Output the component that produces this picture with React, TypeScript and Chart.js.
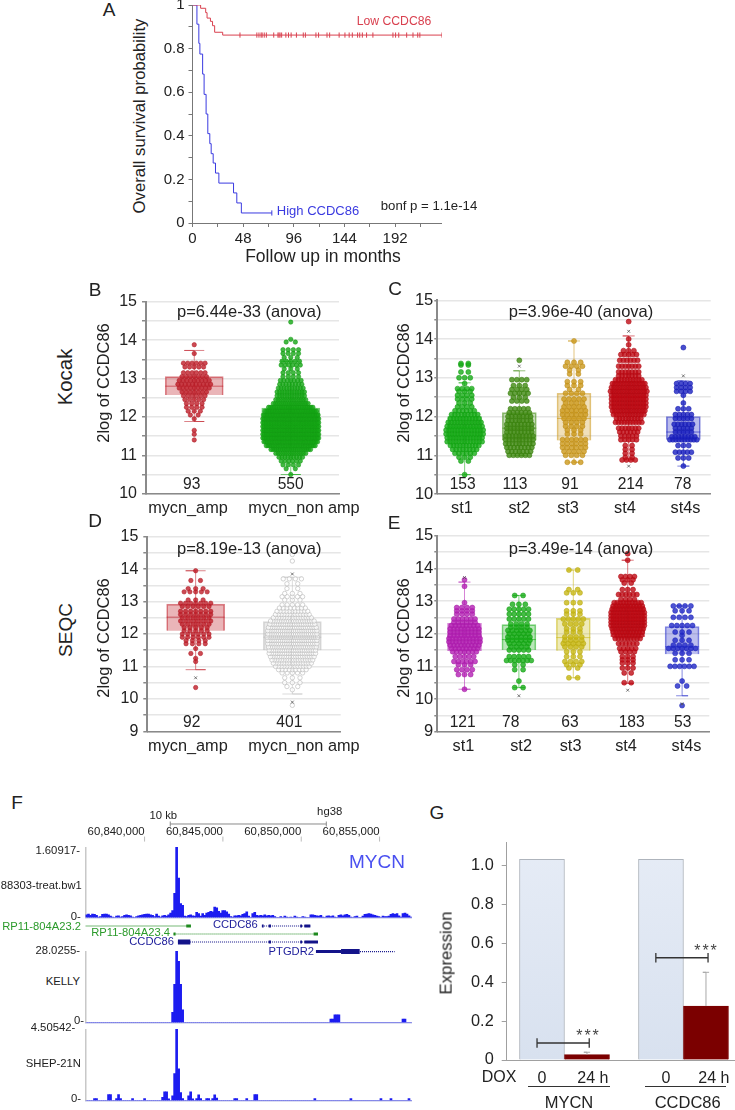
import React, { useEffect, useRef } from "react";
import { Chart, registerables } from "chart.js";
Chart.register(...registerables);

const FONT = "'Liberation Sans', Arial, sans-serif";
Chart.defaults.font.family = FONT;
Chart.defaults.color = "#222";

// ---------- Panel A ----------
const lowMonths = [0, 7.7, 12.5, 13.8, 17, 19, 21, 28.6, 236.5];
const lowSurvival = [1, 0.985, 0.965, 0.94, 0.925, 0.905, 0.875, 0.862, 0.862];
const lowCensored = [45, 61, 63, 65, 66, 68, 70, 77, 81, 82, 83, 84.5, 88.5, 91, 93.5, 98.5, 105, 107, 117, 119.5, 127.5, 130, 139, 144.5, 148.5, 151.5, 156.5, 158.5, 161, 165, 171, 190, 192.5, 195.5, 203, 209, 213.5, 215.5, 236.5];
const highMonths = [0, 4.2, 6, 7, 9.6, 11, 12.9, 14.5, 16.4, 17.7, 19.6, 21.8, 25, 38.9, 42, 46.3, 75.2];
const highSurvival = [1, 0.912, 0.824, 0.775, 0.683, 0.59, 0.5, 0.41, 0.364, 0.318, 0.275, 0.229, 0.183, 0.138, 0.092, 0.046, 0.046];

// ---------- Swarm rows: [log2 value, number of samples in that row] ----------
const kocakAmpRows = [[11.4,1],[11.55,1],[11.65,1],[11.95,1],[12.05,2],[12.15,3],[12.25,4],[12.35,4],[12.45,5],[12.55,6],[12.65,7],[12.75,9],[12.85,10],[12.95,9],[13.05,7],[13.15,6],[13.3,5],[13.4,6],[13.65,1],[13.88,1]];
const kocakNonRows = [[10.5,1],[10.65,2],[10.75,4],[10.85,6],[10.95,9],[11.05,14],[11.15,22],[11.25,30],[11.35,34],[11.45,36],[11.55,36],[11.65,36],[11.75,36],[11.85,36],[11.95,36],[12.05,35],[12.15,32],[12.25,26],[12.35,18],[12.45,14],[12.55,12],[12.65,12],[12.75,10],[12.85,8],[12.95,7],[13.05,4],[13.15,4],[13.25,3],[13.35,6],[13.45,5],[13.55,3],[13.65,4],[13.75,4],[13.95,2],[14.02,1],[14.47,1]];
const kocakSt1Rows = [[10.5,1],[10.85,2],[10.95,3],[11.05,6],[11.15,8],[11.25,10],[11.35,13],[11.45,13],[11.55,14],[11.65,14],[11.75,13],[11.85,12],[11.95,10],[12.05,9],[12.15,6],[12.25,4],[12.35,3],[12.45,4],[12.55,4],[12.65,3],[12.72,4],[12.85,1],[13.0,3],[13.15,2],[13.33,2],[13.37,2]];
const kocakSt2Rows = [[11.0,6],[11.1,7],[11.2,8],[11.3,9],[11.4,9],[11.5,9],[11.6,8],[11.7,8],[11.8,8],[11.9,7],[12.0,7],[12.1,6],[12.2,5],[12.4,4],[12.5,3],[12.6,5],[12.7,4],[12.8,3],[12.95,4],[13.45,1]];
const kocakSt3Rows = [[10.82,3],[11.0,4],[11.1,5],[11.2,6],[11.3,6],[11.4,6],[11.55,3],[11.65,3],[11.75,4],[11.85,4],[11.95,5],[12.05,6],[12.15,6],[12.25,5],[12.35,4],[12.45,5],[12.6,4],[12.7,2],[12.8,3],[12.9,3],[13.1,2],[13.2,2],[13.3,4],[13.4,3],[13.95,1]];
const kocakSt4Rows = [[10.88,4],[10.95,2],[11.05,2],[11.15,2],[11.25,2],[11.4,5],[11.5,5],[11.6,6],[11.7,7],[11.85,10],[11.95,9],[12.05,12],[12.15,13],[12.25,14],[12.35,14],[12.45,14],[12.55,14],[12.65,15],[12.75,14],[12.85,13],[12.95,10],[13.05,7],[13.15,7],[13.3,7],[13.45,6],[13.6,5],[13.7,3],[13.85,1],[14.0,1],[14.45,1]];
const kocakSt4sRows = [[10.72,1],[10.93,3],[11.08,5],[11.25,3],[11.4,10],[11.48,8],[11.6,5],[11.7,5],[11.8,6],[11.95,5],[12.05,5],[12.2,3],[12.35,1],[12.55,1],[12.65,4],[12.75,4],[12.85,4],[13.78,1]];
const seqcAmpRows = [[10.35,1],[11.15,1],[11.25,1],[11.4,2],[11.55,1],[11.7,4],[11.8,4],[11.9,6],[12.0,6],[12.1,5],[12.2,5],[12.3,6],[12.4,7],[12.5,6],[12.6,7],[12.7,7],[12.85,6],[12.95,7],[13.05,3],[13.3,5],[13.4,3],[13.65,2],[13.95,1]];
const seqcNonRows = [[9.8,1],[10.28,1],[10.38,2],[10.5,3],[10.65,3],[10.8,5],[10.9,9],[11.0,13],[11.1,16],[11.2,18],[11.3,20],[11.4,22],[11.5,22],[11.6,23],[11.7,24],[11.8,24],[11.9,25],[12.0,24],[12.1,24],[12.2,23],[12.3,21],[12.4,20],[12.5,16],[12.6,13],[12.7,11],[12.8,8],[12.9,5],[13.05,3],[13.15,5],[13.25,3],[13.4,2],[13.55,2],[13.7,4],[14.25,1],[14.45,1]];
const seqcSt1Rows = [[10.3,1],[10.75,3],[10.9,4],[11.05,3],[11.15,6],[11.3,5],[11.45,7],[11.55,8],[11.65,9],[11.75,10],[11.85,10],[11.95,9],[12.05,9],[12.15,9],[12.25,8],[12.35,6],[12.45,6],[12.6,4],[12.7,4],[12.8,4],[12.95,1],[13.45,1],[13.65,1]];
const seqcSt2Rows = [[10.35,2],[10.55,1],[10.9,2],[11.05,2],[11.18,7],[11.3,5],[11.5,5],[11.6,4],[11.7,5],[11.8,6],[11.9,6],[12.0,5],[12.1,6],[12.2,4],[12.3,4],[12.45,5],[12.6,5],[12.75,5],[12.9,3],[13.17,2]];
const seqcSt3Rows = [[10.65,2],[10.95,2],[11.05,3],[11.15,4],[11.3,3],[11.45,3],[11.6,4],[11.7,5],[11.8,4],[11.9,4],[12.05,3],[12.15,3],[12.3,4],[12.45,5],[12.6,3],[12.7,3],[12.95,3],[13.25,3],[13.35,2],[13.95,2]];
const seqcSt4Rows = [[10.5,2],[10.8,2],[10.95,3],[11.1,3],[11.2,3],[11.3,3],[11.45,4],[11.55,5],[11.7,6],[11.85,9],[11.95,10],[12.05,11],[12.15,12],[12.25,13],[12.35,13],[12.45,13],[12.55,13],[12.65,13],[12.75,12],[12.85,11],[12.95,10],[13.05,4],[13.2,6],[13.35,3],[13.55,2],[13.65,3],[13.75,4],[14.25,1],[14.45,1]];
const seqcSt4sRows = [[9.8,1],[10.4,2],[10.55,1],[11.0,6],[11.2,3],[11.4,3],[11.55,7],[11.65,4],[11.8,3],[11.95,1],[12.05,3],[12.25,5],[12.5,4],[12.7,3],[12.85,4]];

// ---------- Box statistics: [low whisker, q1, median, q3, high whisker] ----------
const kocakMycnBoxes = [[11.88,12.57,12.8,13.05,13.73],[10.5,11.4,11.8,12.23,13.45]];
const kocakStageBoxes = [[10.5,11.4,11.7,12.0,12.87],[11.0,11.38,11.7,12.1,13.18],[10.82,11.38,11.95,12.6,13.95],[10.88,12.07,12.5,12.9,14.08],[10.72,11.4,11.6,12.0,12.92]];
const seqcMycnBoxes = [[10.9,12.1,12.52,12.92,13.95],[10.15,11.5,11.9,12.38,13.75]];
const seqcStageBoxes = [[10.3,11.47,11.9,12.32,13.58],[10.35,11.5,11.82,12.28,13.17],[10.65,11.48,11.88,12.47,13.95],[10.48,11.9,12.4,12.85,14.25],[10.1,11.37,11.6,12.22,12.85]];

// ---------- Outliers: [category index, value] ----------
const kocakStageOutliers = [[1,13.3],[3,14.2],[3,10.72],[4,13.05]];
const seqcMycnOutliers = [[0,10.65],[1,13.85],[1,9.9]];
const seqcStageOutliers = [[0,13.72],[1,10.1],[3,10.27],[4,9.85]];

const mycnLabels = ["mycn_amp", "mycn_non amp"];
const stageLabels = ["st1", "st2", "st3", "st4", "st4s"];
const kocakMycnLabelAt = [-0.065, 1.137];
const seqcMycnLabelAt = [-0.08, 1.12];
const kocakStageLabelAt = [-0.05, 1.0, 1.89, 2.93, 4.04];
const seqcStageLabelAt = [-0.02, 1.04, 1.95, 2.97, 4.08];

// ---------- Panel F ----------
const chip88303 = [.06,.08,.05,.08,.07,.05,.01,.02,.07,.08,.08,.06,.03,.01,0,.03,.04,.01,.02,.05,.06,.05,.04,.01,0,.02,.04,.05,.06,.07,.08,.08,.06,.05,.02,.08,.03,.01,.04,.05,.03,.06,.1,.16,.55,1.6,.9,.32,.28,.03,.02,.05,.06,.04,.03,.12,.09,.03,.09,.05,.1,.12,.14,.13,.24,.22,.14,.1,.16,.16,.13,.08,.02,.01,.04,.04,.05,.04,.07,.09,.13,.03,0,.09,.12,.05,.04,.05,.04,.06,.04,.05,.04,.05,.02,0,0,.02,0,.03,.01,0,.01,0,.03,.01,0,0,.02,.01,0,0,.06,.06,.05,.04,.03,.05,.01,0,.03,.04,.02,.04,.01,0,.05,.06,.04,.06,.07,.05,.01,0,.02,.03,0,0,.03,.07,.08,.09,.08,.06,.05,.03,.02,0,.03,.02,.02,.03,.07,.09,.07,.09,.04,.01,.09,.1,.08,.04,.01];
const kellyBins = [43,44,45,46,47,48,122,123,124,125,126,158,159];
const kellyValues = [4,15,28,24,15,5,1.3,1.3,3,3,3,1.3,1.3];
const shepBins = [4,5,11,12,15,16,17,23,29,38,39,40,41,43,44,45,46,47,48,51,52,53,55,56,57,60,61,63,64,65,74,75,80,84,85,114,132,147,152,161];
const shepValues = [.12,.12,.38,.38,.12,.38,.12,.12,.12,.2,.55,.55,.1,.3,1.7,4.5,2,.5,.12,.3,.55,.1,.12,.35,.12,.12,.12,.12,.35,.15,.12,.12,.12,.38,.38,.12,.12,.12,.12,.12];
const genomeTicksKb = [60840, 60845, 60850, 60855];
const scaleBarKb = [60841.64, 60851.6];
const GENOME_MIN = 60836.23, GENOME_MAX = 60857.07;
const geneTranscripts = [
  { row: 1, span: [60836.23, 60842.92], green: true },
  { row: 1, span: [60847.49, 60850.58], green: false },
  { row: 2, span: [60841.85, 60851.07], green: true },
  { row: 3, span: [60842.13, 60851.07], green: false },
  { row: 4.2, span: [60850.94, 60855.96], green: false },
];
const geneExons = [
  { row: 1, span: [60842.66, 60842.96], green: true, thin: true },
  { row: 1, span: [60847.49, 60847.6], green: false, thin: true },
  { row: 1, span: [60847.92, 60848.07], green: false, thin: true },
  { row: 1, span: [60849.94, 60850.05], green: false, thin: true },
  { row: 1, span: [60850.2, 60850.58], green: false, thin: true },
  { row: 2, span: [60841.85, 60841.98], green: true, thin: true },
  { row: 2, span: [60850.79, 60851.07], green: true, thin: true },
  { row: 3, span: [60842.13, 60842.92], green: false, thin: false },
  { row: 3, span: [60847.92, 60848.07], green: false, thin: true },
  { row: 3, span: [60849.94, 60850.05], green: false, thin: true },
  { row: 3, span: [60850.2, 60851.07], green: false, thin: true },
  { row: 4.2, span: [60850.94, 60852.54], green: false, thin: true },
  { row: 4.2, span: [60852.54, 60853.73], green: false, thin: false },
];

// ---------- Panel G ----------
const barPositions = [0, 1, 2.644, 3.644];
const expressionValues = [1.034, 0.028, 1.034, 0.278];
const errorTops = [null, 0.04, null, 0.452];
const doseLabels = ["0", "24 h", "0", "24 h"];
const doseLabelAt = [0, 1.13, 2.756, 3.82];
const bracketSpans = [[-0.11, 1.05, 0.0876], [2.53, 3.69, 0.527]];

// ---------- helpers ----------
// Chart.js reserves half a label beyond the scale ends; the plot must run the whole box instead.
function noMargins(s: any) {
  s.paddingLeft = s.paddingRight = s.paddingTop = s.paddingBottom = 0;
  if (s._margins) s._margins = { left: 0, right: 0, top: 0, bottom: 0 };
}
// Lays the samples of each row side by side around the category centre; sparse rows spread wider.
function swarm(rows: number[][], cat: number, step: number, sparse: number) {
  const pts: { x: number; y: number }[] = [];
  rows.forEach(([v, n]) => {
    const shift = n % 2 === 0 ? 0.5 : 0;
    const gap = step * (1 + sparse / n);
    for (let k = 0; k < n; k++) {
      const o = k === 0 ? 0 : k % 2 ? (k + 1) / 2 : -k / 2;
      pts.push({ x: cat + (o - shift) * gap, y: v });
    }
  });
  return pts;
}
const rgba = (hex: string, a: number, dim = 1) => {
  const n = parseInt(hex.slice(1), 16);
  return `rgba(${Math.round((n >> 16) * dim)},${Math.round(((n >> 8) & 255) * dim)},${Math.round((n & 255) * dim)},${a})`;
};

function swarmChart(c: HTMLCanvasElement, p: any) {
  const ds: any[] = [];
  const catPx = p.plotW / p.labels.length;
  ds.push({
    type: "bar", order: 5, barThickness: p.boxPx, borderWidth: 1,
    data: p.boxes.map((b: number[], i: number) => ({ x: i, y: [b[1], b[3]] })),
    backgroundColor: p.colors.map((k: string) => rgba(k, p.boxAlpha ?? 0.32)),
    borderColor: p.colors.map((k: string) => rgba(k, p.boxLine ?? 0.45)),
  });
  p.boxes.forEach((b: number[], i: number) => {
    const cap = p.capPx / catPx / 2;
    ds.push({
      type: "scatter", showLine: true, order: 4, pointRadius: 0, borderWidth: 1, borderColor: rgba(p.colors[i], p.boxLine ?? 0.6),
      data: [{ x: i - cap, y: b[0] }, { x: i + cap, y: b[0] }, { x: i, y: b[0] }, { x: i, y: b[4] }, { x: i - cap, y: b[4] }, { x: i + cap, y: b[4] }],
    });
    const hw = p.boxPx / catPx / 2;
    ds.push({
      type: "scatter", showLine: true, order: 0, pointRadius: 0, borderWidth: 1, borderColor: rgba(p.colors[i], 0.6),
      data: [{ x: i - hw, y: b[2] }, { x: i + hw, y: b[2] }],
    });
  });
  p.rows.forEach((r: number[][], i: number) => {
    ds.push({
      type: "scatter", order: 2, pointRadius: p.radius, borderWidth: 0.6,
      backgroundColor: p.hollow?.[i] ? "rgba(255,255,255,0.7)" : rgba(p.colors[i], 0.8),
      borderColor: p.hollow?.[i] ? "#b5b5b5" : rgba(p.colors[i], 0.9, 0.92),
      data: swarm(r, i, p.stepPx[i] / catPx, p.sparse[i]),
    });
  });
  if (p.outliers) ds.push({
    type: "scatter", order: 1, pointStyle: "crossRot", pointRadius: 2, borderWidth: 0.8, borderColor: "#555",
    data: p.outliers.map(([i, v]: number[]) => ({ x: i, y: v })),
  });
  return new Chart(c, {
    type: "bar",
    data: { datasets: ds },
    options: {
      responsive: false, animation: false, events: [],
      layout: { autoPadding: false, padding: { top: p.top, right: p.right, left: 0, bottom: 0 } },
      plugins: { legend: { display: false }, tooltip: { enabled: false } },
      scales: {
        x: {
          type: "linear", offset: false, min: -0.5, max: p.labels.length - 0.5,
          grid: { display: false, drawTicks: false }, border: { color: "#8a8a8a", width: 1.5 },
          afterFit(s: any) { s.height = p.xH; noMargins(s); },
          afterBuildTicks(s: any) { s.ticks = p.labelAt.map((value: number) => ({ value })); },
          ticks: {
            autoSkip: false, maxRotation: 0, padding: 5, color: "#222", font: { size: 16.3 },
            callback: (_v: any, i: number) => p.labels[i],
          },
        },
        y: {
          min: p.yMin, max: 15,
          grid: { color: "#e6e6e6", lineWidth: 1.5, tickColor: "#8a8a8a", tickLength: p.tickLen },
          border: { color: "#8a8a8a", width: 2 },
          afterFit(s: any) { s.width = p.yW; noMargins(s); },
          ticks: {
            stepSize: 0.5, autoSkip: false, padding: p.tickPad, color: "#222", font: { size: p.tickFont },
            callback: (v: any) => (Number.isInteger(v) ? String(v) : ""),
          },
        },
      },
    },
  } as any);
}

function kmChart(c: HTMLCanvasElement) {
  const step = (xs: number[], ys: number[], color: string, censored: number[], cy: number) => [
    { type: "line", stepped: true, pointRadius: 0, borderWidth: 1, borderColor: color, data: xs.map((x, i) => ({ x, y: ys[i] })) },
    { type: "scatter", pointStyle: "line", rotation: 90, pointRadius: 2.6, borderWidth: 1, borderColor: color, data: censored.map((x) => ({ x, y: cy })) },
  ];
  return new Chart(c, {
    type: "line",
    data: {
      datasets: [
        ...step(lowMonths, lowSurvival, "#d9404f", lowCensored, lowSurvival[lowSurvival.length - 1]),
        ...step(highMonths, highSurvival, "#3a3ae0", [highMonths[highMonths.length - 1]], highSurvival[highSurvival.length - 1]),
      ],
    },
    options: {
      responsive: false, animation: false, events: [],
      layout: { autoPadding: false, padding: { top: 5, left: 0, right: 0, bottom: 0 } },
      plugins: { legend: { display: false }, tooltip: { enabled: false } },
      scales: {
        x: {
          type: "linear", min: 0, max: 236.5,
          grid: { drawOnChartArea: false, tickColor: "#777", tickLength: 4 },
          border: { color: "#777", width: 1 },
          afterFit(s: any) { s.height = 24; noMargins(s); },
          ticks: {
            stepSize: 24, includeBounds: false, autoSkip: false, maxRotation: 0, padding: 3, color: "#222", font: { size: 15 },
            callback: (v: any) => (Math.round(v) % 48 === 0 ? String(v) : ""),
          },
        },
        y: {
          min: 0, max: 1,
          grid: { drawOnChartArea: false, tickColor: "#777", tickLength: 4 },
          border: { color: "#777", width: 1 },
          afterFit(s: any) { s.width = 42.5; noMargins(s); },
          ticks: {
            stepSize: 0.1, autoSkip: false, padding: 4, color: "#222", font: { size: 15 },
            callback: (v: any) => (Math.round(v * 10) % 2 === 0 ? String(Math.round(v * 10) / 10) : ""),
          },
        },
      },
    },
  } as any);
}

function headerChart(c: HTMLCanvasElement) {
  return new Chart(c, {
    type: "scatter",
    data: {
      datasets: [
        { showLine: true, borderColor: "#8a8a8a", borderWidth: 1, pointStyle: "line", rotation: 90, pointRadius: 2.5, pointBorderColor: "#8a8a8a", pointBorderWidth: 1, data: scaleBarKb.map((x) => ({ x, y: 0.69 })) },
        { pointStyle: "line", rotation: 90, pointRadius: 2.5, borderColor: "#bbb", borderWidth: 1, data: genomeTicksKb.map((x) => ({ x, y: 0.17 })) },
      ],
    },
    options: {
      responsive: false, animation: false, events: [],
      layout: { autoPadding: false, padding: { left: 1.5, top: 0, right: 0, bottom: 0 } },
      plugins: { legend: { display: false }, tooltip: { enabled: false } },
      scales: {
        x: {
          type: "linear", min: GENOME_MIN, max: GENOME_MAX,
          grid: { display: false, drawTicks: false }, border: { display: false },
          afterFit(s: any) { s.height = 1; noMargins(s); },
          afterBuildTicks(s: any) { s.ticks = genomeTicksKb.map((value) => ({ value })); },
          ticks: {
            autoSkip: false, maxRotation: 0, align: "end", mirror: true, padding: 5, color: "#222", font: { size: 11.4 },
            callback: (v: any) => (v * 1000).toLocaleString("en-US"),
          },
        },
        y: { display: false, min: 0, max: 1 },
      },
    },
  } as any);
}

function geneChart(c: HTMLCanvasElement) {
  const green = "#1f8a1f", navy = "#14148a";
  const seg = (g: any, width: number, dash: number[]) => ({
    showLine: true, pointRadius: 0, borderWidth: width, borderDash: dash, borderColor: g.green ? green : navy,
    data: g.span.map((x: number) => ({ x, y: g.row })),
  });
  return new Chart(c, {
    type: "scatter",
    data: {
      datasets: [
        ...geneTranscripts.map((g) => seg(g, 1.2, [1, 1])),
        ...geneExons.map((g) => seg(g, g.thin ? 3 : 5, [])),
      ],
    },
    options: {
      responsive: false, animation: false, events: [],
      layout: { autoPadding: false, padding: { left: 1.5, top: 0, right: 0, bottom: 0 } },
      plugins: { legend: { display: false }, tooltip: { enabled: false } },
      scales: {
        x: { display: false, type: "linear", min: GENOME_MIN, max: GENOME_MAX },
        y: { display: false, min: 0, max: 5.25, reverse: true },
      },
    },
  } as any);
}

const dense = (bins: number[], vals: number[]) => {
  const a: number[] = new Array(chip88303.length).fill(0);
  bins.forEach((b, i) => (a[b] = vals[i]));
  return a;
};

function trackChart(c: HTMLCanvasElement, values: number[], max: number) {
  return new Chart(c, {
    type: "bar",
    data: {
      labels: values.map((_, i) => i),
      datasets: [{ data: values, backgroundColor: "#1c1cf0", borderWidth: 0, barPercentage: 1, categoryPercentage: 1 }],
    },
    options: {
      responsive: false, animation: false, events: [],
      layout: { autoPadding: false, padding: 0 },
      plugins: { legend: { display: false }, tooltip: { enabled: false } },
      scales: {
        x: {
          grid: { display: false }, ticks: { display: false }, border: { color: "#b9bde6", width: 1.5 },
          afterFit(s: any) { s.height = 1.5; noMargins(s); },
        },
        y: {
          min: 0, max,
          grid: { display: false }, ticks: { display: false }, border: { color: "#c8c8c8", width: 1.5 },
          afterFit(s: any) { s.width = 1.5; noMargins(s); },
        },
      },
    },
  } as any);
}

function expressionChart(c: HTMLCanvasElement) {
  const capW = 0.07;
  const lines: any[] = [];
  errorTops.forEach((t, i) => {
    if (t === null) return;
    const x = barPositions[i];
    lines.push({
      type: "scatter", showLine: true, order: 2, pointRadius: 0, borderWidth: 1, borderColor: "#a8a8a8",
      data: [{ x, y: expressionValues[i] }, { x, y: t }, { x: x - capW, y: t }, { x: x + capW, y: t }],
    });
  });
  bracketSpans.forEach(([a, b, y]) => {
    const h = 0.024;
    lines.push({
      type: "scatter", showLine: true, order: 1, pointRadius: 0, borderWidth: 1.3, borderColor: "#333",
      data: [{ x: a, y: y + h }, { x: a, y: y - h }, { x: a, y }, { x: b, y }, { x: b, y: y + h }, { x: b, y: y - h }],
    });
  });
  return new Chart(c, {
    type: "bar",
    data: {
      datasets: [
        {
          type: "bar", order: 3, barThickness: 45,
          data: barPositions.map((x, i) => ({ x, y: expressionValues[i] })),
          backgroundColor: (k: any) => {
            if (k.dataIndex % 2) return "#7b0000";
            const { ctx, chartArea } = k.chart;
            if (!chartArea) return "#dfe6f2";
            const g = ctx.createLinearGradient(0, chartArea.top, 0, chartArea.bottom);
            g.addColorStop(0, "#e6ecf6");
            g.addColorStop(1, "#d8e1ef");
            return g;
          },
          borderColor: (k: any) => (k.dataIndex % 2 ? "#7b0000" : "#aeb4bc"),
          borderWidth: 1,
        },
        ...lines,
      ],
    },
    options: {
      responsive: false, animation: false, events: [],
      layout: { autoPadding: false, padding: { top: 7.7, left: 0, right: 0, bottom: 0 } },
      plugins: { legend: { display: false }, tooltip: { enabled: false } },
      scales: {
        x: {
          type: "linear", offset: false, min: -0.784, max: 4.289,
          grid: { display: false, drawTicks: false }, border: { color: "#a0a0a0", width: 1 },
          afterFit(s: any) { s.height = 30; noMargins(s); },
          afterBuildTicks(s: any) { s.ticks = doseLabelAt.map((value) => ({ value })); },
          ticks: {
            autoSkip: false, maxRotation: 0, padding: 9, color: "#222", font: { size: 16 },
            callback: (_v: any, i: number) => doseLabels[i],
          },
        },
        y: {
          min: 0, max: 1.12,
          grid: { drawOnChartArea: false, tickColor: "#a0a0a0", tickLength: 5 },
          border: { color: "#a0a0a0", width: 1 },
          afterFit(s: any) { s.width = 56.7; noMargins(s); },
          ticks: {
            stepSize: 0.2, includeBounds: false, autoSkip: false, padding: 8, color: "#222", font: { size: 16.3 },
            callback: (v: any) => (Math.abs(v) < 1e-6 ? "0" : Number(v).toFixed(1)),
          },
        },
      },
    },
  } as any);
}

// ---------- panels ----------
const panels: any[] = [
  { box: [85, 290, 285, 232], cfg: { plotW: 193, top: 11.7, right: 31, yW: 61, xH: 28.3, yMin: 10, tickLen: 4, tickPad: 5, tickFont: 16, labels: mycnLabels, labelAt: kocakMycnLabelAt, boxes: kocakMycnBoxes, rows: [kocakAmpRows, kocakNonRows], colors: ["#bf1d28", "#14a814"], stepPx: [2.6, 1.15], sparse: [4, 14], boxPx: 58, capPx: 20, radius: 2.2, boxAlpha: 0.33, boxLine: 0.55 } },
  { box: [395, 290, 325, 232], cfg: { plotW: 273.4, top: 10.3, right: 9.3, yW: 42.3, xH: 28, yMin: 10, tickLen: 3, tickPad: 1, tickFont: 16.5, labels: stageLabels, labelAt: kocakStageLabelAt, boxes: kocakStageBoxes, rows: [kocakSt1Rows, kocakSt2Rows, kocakSt3Rows, kocakSt4Rows, kocakSt4sRows], colors: ["#16ad16", "#3f8a10", "#cc981a", "#bf0a14", "#1a20c0"], outliers: kocakStageOutliers, stepPx: [2.1, 2.2, 2.5, 1.95, 2], sparse: [5, 5, 5, 5, 5], boxPx: 34, capPx: 12, radius: 2.5, boxAlpha: 0.3, boxLine: 0.55 } },
  { box: [85, 527, 285, 232], cfg: { plotW: 193.4, top: 9.7, right: 29.3, yW: 62.3, xH: 27.7, yMin: 9, tickLen: 4, tickPad: 5, tickFont: 16, labels: mycnLabels, labelAt: seqcMycnLabelAt, boxes: seqcMycnBoxes, rows: [seqcAmpRows, seqcNonRows], colors: ["#bf1d28", "#bdbdbd"], hollow: [false, true], outliers: seqcMycnOutliers, stepPx: [3.2, 1.35], sparse: [4, 14], boxPx: 58, capPx: 20, radius: 2.2, boxAlpha: 0.33, boxLine: 0.55 } },
  { box: [395, 527, 325, 232], cfg: { plotW: 272, top: 8.7, right: 10.7, yW: 42.3, xH: 27.3, yMin: 9, tickLen: 3, tickPad: 1, tickFont: 16.5, labels: stageLabels, labelAt: seqcStageLabelAt, boxes: seqcStageBoxes, rows: [seqcSt1Rows, seqcSt2Rows, seqcSt3Rows, seqcSt4Rows, seqcSt4sRows], colors: ["#b41fb4", "#16ad16", "#c8b814", "#bf0a14", "#2028c8"], outliers: seqcStageOutliers, stepPx: [2.3, 2.4, 2.5, 2, 2.6], sparse: [5, 5, 5, 5, 5], boxPx: 34, capPx: 12, radius: 2.5, boxAlpha: 0.3, boxLine: 0.55 } },
];

const texts: any[] = [
  ["A", 109, 9, 19], ["B", 95, 289, 19], ["C", 395, 288, 19], ["D", 95, 520, 19], ["E", 394, 522, 19], ["F", 17, 802, 19], ["G", 437, 812, 19],
  // panel A
  ["Overall survival probability", 140, 116, 16.7, { rot: 1 }],
  ["Follow up in months", 323, 256.7, 17.5],
  ["Low CCDC86", 394, 20.7, 12.2, { c: "#d9404f" }],
  ["High CCDC86", 318, 210, 13, { c: "#3a3ae0" }],
  ["bonf p = 1.1e-14", 429, 205.7, 13.2],
  // swarm panels
  ["Kocak", 65, 377, 20.4, { rot: 1 }], ["SEQC", 65, 630, 19, { rot: 1 }],
  ["2log of CCDC86", 103, 383, 16.4, { rot: 1 }], ["2log of CCDC86", 403, 383, 16.4, { rot: 1 }],
  ["2log of CCDC86", 103, 638, 16.4, { rot: 1 }], ["2log of CCDC86", 403, 638, 16.4, { rot: 1 }],
  ["p=6.44e-33 (anova)", 249.3, 311, 16.5], ["p=3.96e-40 (anova)", 581, 311, 16.5],
  ["p=8.19e-13 (anova)", 249.3, 547.7, 16.5], ["p=3.49e-14 (anova)", 581, 547.7, 16.5],
  ["93", 191.7, 484, 15.6], ["550", 290.7, 484, 15.6],
  ["153", 462.7, 484, 15.6], ["113", 515, 484, 15.6], ["91", 570, 484, 15.6], ["214", 630.7, 484, 15.6], ["78", 682.7, 484, 15.6],
  ["92", 191.7, 722, 15.6], ["401", 289.3, 722, 15.6],
  ["121", 462.7, 722, 15.6], ["78", 510.7, 722, 15.6], ["63", 570, 722, 15.6], ["183", 631.7, 722, 15.6], ["53", 682.7, 722, 15.6],
  // panel F
  ["10 kb", 163.3, 816, 11.3], ["hg38", 329.7, 812.3, 11.3], ["MYCN", 377, 861, 19, { c: "#4a50f0" }],
  ["1.60917-", 80, 850.7, 11.3, { a: "r" }], ["88303-treat.bw1", 81.7, 885.7, 11.2, { a: "r" }], ["0-", 80.7, 916.7, 11.3, { a: "r" }],
  ["28.0255-", 80, 950.7, 11.3, { a: "r" }], ["KELLY", 80, 982.3, 11.3, { a: "r" }], ["0-", 84, 1020.7, 11.3, { a: "r" }],
  ["4.50542-", 75.3, 1027.7, 11.3, { a: "r" }], ["SHEP-21N", 81, 1064.3, 11.3, { a: "r" }], ["0-", 81, 1099, 11.3, { a: "r" }],
  ["RP11-804A23.2", 81, 926.7, 11.2, { a: "r", c: "#2a9a2a" }], ["RP11-804A23.4", 170, 933, 11.2, { a: "r", c: "#2a9a2a" }],
  ["CCDC86", 174, 941.7, 11.2, { a: "r", c: "#1c1c9a" }], ["CCDC86", 257.7, 925, 11.2, { a: "r", c: "#1c1c9a" }], ["PTGDR2", 314, 952.3, 11.2, { a: "r", c: "#1c1c9a" }],
  // panel G
  ["Expression", 447, 953, 16.8, { rot: 1 }], ["DOX", 499, 1077, 16],
  ["MYCN", 569, 1101.7, 16.5], ["CCDC86", 687.7, 1101.7, 16.5],
  ["***", 588.5, 1036, 16, { ls: 2, c: "#444" }], ["***", 706.5, 951, 16, { ls: 2, c: "#444" }],
];

function Cv({ box, make }: { box: number[]; make: (c: HTMLCanvasElement) => any }) {
  const ref = useRef<HTMLCanvasElement>(null);
  useEffect(() => {
    const ch = make(ref.current!);
    return () => ch.destroy();
  }, []);
  return (
    <div style={{ position: "absolute", left: box[0], top: box[1], width: box[2], height: box[3] }}>
      <canvas ref={ref} width={box[2]} height={box[3]} style={{ display: "block" }} />
    </div>
  );
}

function Txt({ t }: { t: any[] }) {
  const [s, x, y, size, o = {}] = t;
  const tr = `translate(${o.a === "r" ? "-100%" : "-50%"},-50%)${o.rot ? " rotate(-90deg)" : ""}`;
  return (
    <div style={{ position: "absolute", left: x, top: y, fontSize: size, lineHeight: 1, whiteSpace: "nowrap", color: o.c ?? "#222", letterSpacing: o.ls, transform: tr }}>{s}</div>
  );
}

export default function App() {
  return (
    <div style={{ position: "absolute", left: 0, top: 0, width: 735, height: 1110, overflow: "hidden", background: "#fff", fontFamily: FONT, filter: "blur(0.3px)" }}>
      <Cv box={[150, 0, 292, 247]} make={kmChart} />
      {panels.map((p, i) => (
        <Cv key={i} box={p.box} make={(c) => swarmChart(c, p.cfg)} />
      ))}
      <Cv box={[84, 815, 328, 30]} make={headerChart} />
      <Cv box={[84, 847, 328, 72]} make={(c) => trackChart(c, chip88303, 1.60917)} />
      <Cv box={[84, 951, 328, 73]} make={(c) => trackChart(c, dense(kellyBins, kellyValues), 28.0255)} />
      <Cv box={[84, 1029, 328, 73]} make={(c) => trackChart(c, dense(shepBins, shepValues), 4.50542)} />
      <Cv box={[84, 918, 328, 42]} make={geneChart} />
      <Cv box={[450, 835, 285, 255]} make={expressionChart} />
      <div style={{ position: "absolute", left: 528, top: 1086, width: 82, height: 1, background: "#333" }} />
      <div style={{ position: "absolute", left: 645, top: 1086, width: 81, height: 1, background: "#333" }} />
      {texts.map((t, i) => (
        <Txt key={i} t={t} />
      ))}
    </div>
  );
}
